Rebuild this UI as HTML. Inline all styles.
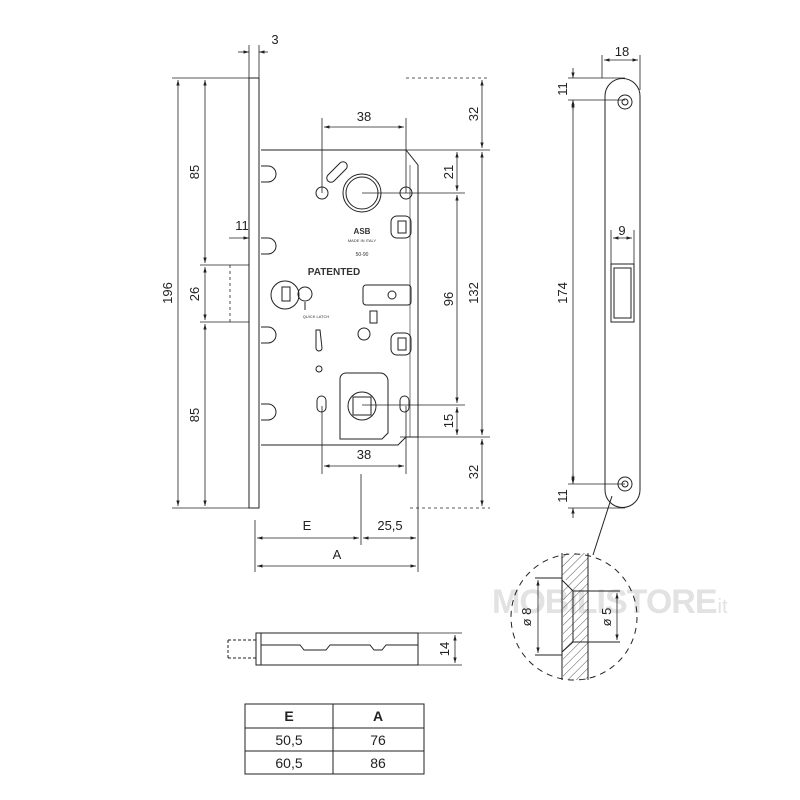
<!DOCTYPE html>
<html><head><style>body{margin:0;background:#fff}svg{display:block}</style></head><body>
<svg width="800" height="800" viewBox="0 0 800 800" xmlns="http://www.w3.org/2000/svg" font-family="Liberation Sans, sans-serif">
<defs>
<marker id="a" viewBox="0 0 10 10" refX="10" refY="5" markerWidth="7" markerHeight="7" orient="auto-start-reverse"><path d="M0,2 L10,5 L0,8z" fill="#222"/></marker>
<pattern id="h" width="6" height="6" patternUnits="userSpaceOnUse" patternTransform="rotate(45)"><line x1="0" y1="0" x2="0" y2="6" stroke="#555" stroke-width="1"/></pattern>
</defs>
<text x="492" y="613" font-size="34" font-weight="bold" fill="#e2e2e2" letter-spacing="-1">MOBILISTORE</text>
<text x="712" y="613" font-size="20" fill="#e2e2e2">.it</text>
<g stroke="#222" fill="none" stroke-width="1">
<rect x="249" y="78" width="10" height="430"/>
<path d="M261,150 H406 L418,165 V437 H406 L398,445 H261"/>
<path d="M410,165 V437" stroke-width="0.6"/>
<path d="M261,166 h7 a5,5 0 0 1 0,16 h-7"/><path d="M261,238 h7 a5,5 0 0 1 0,16 h-7"/>
<path d="M261,327 h7 a5,5 0 0 1 0,16 h-7"/><path d="M261,404 h7 a5,5 0 0 1 0,16 h-7"/>
<circle cx="322" cy="193" r="6"/><circle cx="406" cy="193" r="6"/><circle cx="362" cy="193" r="19"/><circle cx="362" cy="193" r="16"/>
<path d="M328,175 l12,-12 a4,4 0 0 1 6,6 l-12,12 a4,4 0 0 1 -6,-6z"/>
<rect x="391" y="216" width="20" height="22" rx="6"/><rect x="398" y="221" width="8" height="12"/>
<rect x="391" y="333" width="20" height="22" rx="6"/><rect x="398" y="338" width="8" height="12"/>
<circle cx="285" cy="295" r="14"/><rect x="282" y="287" width="8" height="14"/><circle cx="305" cy="294" r="7"/>
<rect x="363" y="285" width="48" height="20" rx="3"/><circle cx="392" cy="295" r="4"/>
<rect x="370" y="311" width="7" height="12"/><circle cx="364" cy="334" r="6"/>
<path d="M316,330 l4,0 l2,18 a3,3 0 0 1 -6,0z"/><circle cx="319" cy="369" r="3"/>
<path d="M350,373 h30 a8,8 0 0 1 8,8 v52 l-6,6 h-42 v-60 a6,6 0 0 1 6,-6z"/>
<circle cx="362" cy="406" r="14"/><rect x="353" y="397" width="18" height="18"/>
<rect x="317" y="396" width="9" height="16" rx="4.5"/><rect x="400" y="396" width="9" height="16" rx="4.5"/>
<path d="M305,302 V310"/>
</g>
<text x="334" y="275" font-size="10" font-weight="bold" fill="#333" text-anchor="middle">PATENTED</text>
<text x="316" y="318" font-size="4" fill="#333" text-anchor="middle">QUICK LATCH</text>
<text x="362" y="234" font-size="8" font-weight="bold" fill="#333" text-anchor="middle">ASB</text>
<text x="362" y="242" font-size="4" fill="#333" text-anchor="middle">MADE IN ITALY</text>
<text x="362" y="256" font-size="5" fill="#333" text-anchor="middle">50-90</text>
<g stroke="#222" stroke-width="0.8" fill="none">
<path d="M172,78 H249 M200,265 H249 M200,322 H249 M172,508 H249" />
<path d="M230,265 V322" stroke-dasharray="3,3"/>
<path d="M249,45 V78 M259,45 V78" />
<path d="M322,118 V193 M406,118 V193 M322,406 V474 M406,406 V474" />
<path d="M406,78 H490" stroke-dasharray="3,3"/><path d="M410,508 H490" stroke-dasharray="3,3"/>
<path d="M406,150 H490 M362,193 H465 M362,405 H465 M400,437 H490" />
<path d="M255,520 V572 M418,437 V572 M361,474 V545" />
<line x1="178" y1="80" x2="178" y2="506" marker-start="url(#a)" marker-end="url(#a)"/>
<line x1="205" y1="80" x2="205" y2="263" marker-start="url(#a)" marker-end="url(#a)"/>
<line x1="205" y1="267" x2="205" y2="320" marker-start="url(#a)" marker-end="url(#a)"/>
<line x1="205" y1="324" x2="205" y2="506" marker-start="url(#a)" marker-end="url(#a)"/>
<line x1="229" y1="238" x2="249" y2="238" marker-end="url(#a)"/>
<line x1="238" y1="52" x2="249" y2="52" marker-end="url(#a)"/><line x1="268" y1="52" x2="259" y2="52" marker-end="url(#a)"/>
<line x1="324" y1="127" x2="404" y2="127" marker-start="url(#a)" marker-end="url(#a)"/>
<line x1="324" y1="466" x2="404" y2="466" marker-start="url(#a)" marker-end="url(#a)"/>
<line x1="482" y1="80" x2="482" y2="148" marker-start="url(#a)" marker-end="url(#a)"/>
<line x1="482" y1="152" x2="482" y2="435" marker-start="url(#a)" marker-end="url(#a)"/>
<line x1="482" y1="439" x2="482" y2="506" marker-start="url(#a)" marker-end="url(#a)"/>
<line x1="457" y1="152" x2="457" y2="191" marker-start="url(#a)" marker-end="url(#a)"/>
<line x1="457" y1="195" x2="457" y2="403" marker-start="url(#a)" marker-end="url(#a)"/>
<line x1="457" y1="407" x2="457" y2="435" marker-start="url(#a)" marker-end="url(#a)"/>
<line x1="257" y1="538" x2="359" y2="538" marker-start="url(#a)" marker-end="url(#a)"/>
<line x1="363" y1="538" x2="416" y2="538" marker-start="url(#a)" marker-end="url(#a)"/>
<line x1="257" y1="566" x2="416" y2="566" marker-start="url(#a)" marker-end="url(#a)"/>
<path d="M568,78 H625 M568,100 H625 M568,484 H625 M568,508 H625 M602,55 V78 M640,55 V90 M611,230 V264 M634,230 V264"/>
<line x1="604" y1="60" x2="638" y2="60" marker-start="url(#a)" marker-end="url(#a)"/>
<line x1="573" y1="102" x2="573" y2="482" marker-start="url(#a)" marker-end="url(#a)"/>
<line x1="573" y1="68" x2="573" y2="78" marker-end="url(#a)"/><line x1="573" y1="110" x2="573" y2="100" marker-end="url(#a)"/>
<line x1="573" y1="474" x2="573" y2="484" marker-end="url(#a)"/><line x1="573" y1="518" x2="573" y2="508" marker-end="url(#a)"/>
<line x1="613" y1="238" x2="632" y2="238" marker-start="url(#a)" marker-end="url(#a)"/>
<line x1="455" y1="635" x2="455" y2="663" marker-start="url(#a)" marker-end="url(#a)"/>
<path d="M418,633 H462 M418,665 H462"/>
</g>
<g stroke="#222" fill="none" stroke-width="1">
<path d="M605,96 a17,17 0 0 1 35,0 V490 a17,17 0 0 1 -35,0z"/>
<circle cx="625" cy="102" r="7"/><circle cx="625" cy="102" r="3"/>
<circle cx="625" cy="484" r="7"/><circle cx="625" cy="484" r="3"/>
<rect x="611" y="264" width="23" height="58"/><rect x="614" y="268" width="17" height="50"/>
<path d="M612,496 L593,555"/>
<rect x="256" y="633" width="162" height="32"/><path d="M261,633 V665 M261,645 H300 L304,650 H326 L330,645 H370 L374,650 H382 L386,645 H418"/>
<path d="M228,640 H256 M228,658 H256 M228,640 V658" stroke-dasharray="3,2"/>
<circle cx="574" cy="617" r="63" stroke-dasharray="6,5"/>
</g>
<path d="M562,553 H588 V680 H563 V587 L573,580 L562,580z" fill="url(#h)" stroke="none"/>
<g stroke="#222" fill="none" stroke-width="1">
<path d="M562,553 V680 M588,553 V680 M562,580 L573,591 V642 L562,652 M573,591 H588 M573,642 H588"/>
<path d="M535,578 H562 M535,655 H562 M588,591 H620 M588,642 H620"/>
<line x1="538" y1="580" x2="538" y2="653" stroke-width="0.8" marker-start="url(#a)" marker-end="url(#a)"/>
<line x1="617" y1="593" x2="617" y2="640" stroke-width="0.8" marker-start="url(#a)" marker-end="url(#a)"/>
</g>
<g font-size="13" fill="#222" text-anchor="middle">
<text x="275" y="44">3</text><text x="364" y="121">38</text><text x="364" y="459">38</text>
<text x="307" y="530">E</text><text x="390" y="530">25,5</text><text x="337" y="559">A</text>
<text x="622" y="56">18</text><text x="622" y="235">9</text>
<text x="242" y="230">11</text>
<text transform="translate(172,293) rotate(-90)">196</text>
<text transform="translate(199,172) rotate(-90)">85</text>
<text transform="translate(199,294) rotate(-90)">26</text>
<text transform="translate(199,415) rotate(-90)">85</text>
<text transform="translate(478,114) rotate(-90)">32</text>
<text transform="translate(453,172) rotate(-90)">21</text>
<text transform="translate(453,299) rotate(-90)">96</text>
<text transform="translate(453,421) rotate(-90)">15</text>
<text transform="translate(478,293) rotate(-90)">132</text>
<text transform="translate(478,472) rotate(-90)">32</text>
<text transform="translate(567,89) rotate(-90)">11</text>
<text transform="translate(567,293) rotate(-90)">174</text>
<text transform="translate(567,496) rotate(-90)">11</text>
<text transform="translate(449,649) rotate(-90)">14</text>
<text transform="translate(531,617) rotate(-90)">ø 8</text>
<text transform="translate(611,617) rotate(-90)">ø 5</text>
</g>
<g stroke="#222" fill="none" stroke-width="1">
<rect x="245" y="704" width="179" height="70"/><path d="M245,728 H424 M245,751 H424 M333,704 V774"/>
</g>
<g font-size="14" fill="#222" text-anchor="middle">
<text x="289" y="721" font-weight="bold">E</text><text x="378" y="721" font-weight="bold">A</text>
<text x="289" y="745">50,5</text><text x="378" y="745">76</text>
<text x="289" y="768">60,5</text><text x="378" y="768">86</text>
</g>
</svg>
</body></html>
